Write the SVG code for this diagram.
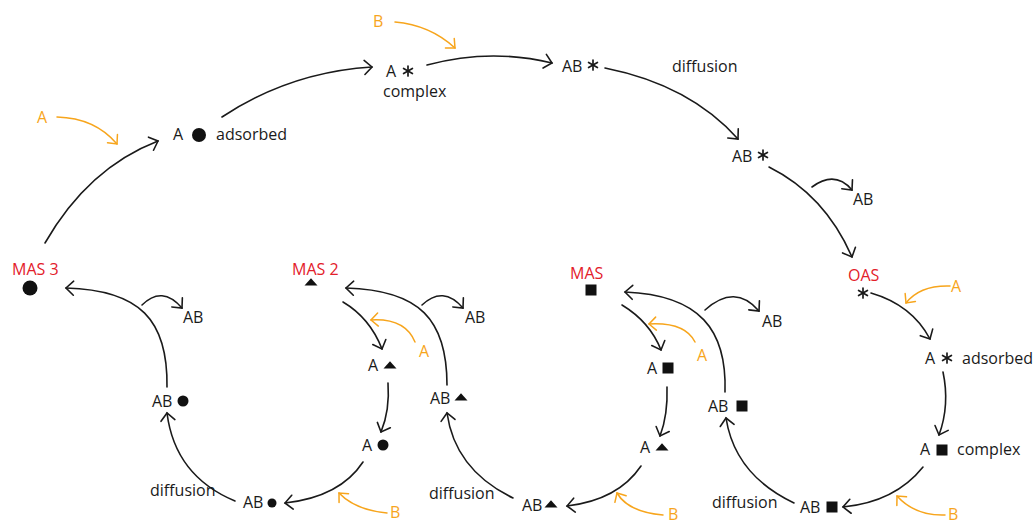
<svg xmlns="http://www.w3.org/2000/svg" xmlns:xlink="http://www.w3.org/1999/xlink" width="1033" height="523" viewBox="0 0 1033 523">
<style>
text{font-family:"Open Sans","Liberation Sans",sans-serif;font-size:16px;fill:#1a1a1a}
.red{fill:#e3202a}
.or{fill:#f7a51c}
.c{fill:none;stroke:#1a1a1a;stroke-width:1.6;stroke-linecap:round}
.o{fill:none;stroke:#f7a51c;stroke-width:1.5;stroke-linecap:round}
.sym{fill:#111}
</style>
<defs>
<marker id="ah" markerUnits="userSpaceOnUse" markerWidth="24" markerHeight="24" viewBox="-12 -12 24 24" refX="0" refY="0" orient="auto" overflow="visible">
<path d="M-7.5,-7 L0,0 L-7.5,7" fill="none" stroke="#1a1a1a" stroke-width="1.6" stroke-linecap="round" stroke-linejoin="miter"/>
</marker>
<marker id="aho" markerUnits="userSpaceOnUse" markerWidth="24" markerHeight="24" viewBox="-12 -12 24 24" refX="0" refY="0" orient="auto" overflow="visible">
<path d="M-7,-6.5 L0,0 L-7,6.5" fill="none" stroke="#f7a51c" stroke-width="1.5" stroke-linecap="round"/>
</marker>
<g id="ast" stroke="#1a1a1a" stroke-width="1.7" stroke-linecap="round">
<line x1="0" y1="-5" x2="0" y2="5"/>
<line x1="-4.4" y1="-2.6" x2="4.4" y2="2.6"/>
<line x1="-4.4" y1="2.6" x2="4.4" y2="-2.6"/>
</g>
<path id="tri" d="M-6.5,3.5 L6.5,3.5 L0,-3.8 Z"/>
<rect id="sq" x="-5.5" y="-5.5" width="11" height="11"/>
</defs>

<g id="connectors">
<path class="c" marker-end="url(#ah)" d="M45,243 Q88,168 158,141"/>
<path class="c" marker-end="url(#ah)" d="M222,117 Q290,72 372,67"/>
<path class="c" marker-end="url(#ah)" d="M427,65 Q490,48 552,63"/>
<path class="c" marker-end="url(#ah)" d="M605,68 Q690,85 738,139"/>
<path class="c" marker-end="url(#ah)" d="M769,167 Q825,195 852,257"/>
<path class="c" marker-end="url(#ah)" d="M812,187 Q835,170 852,190"/>
<path class="c" marker-end="url(#ah)" d="M871,293 Q912,305 930,339"/>
<path class="c" marker-end="url(#ah)" d="M943,372 Q950,405 939,435"/>
<path class="c" marker-end="url(#ah)" d="M923,467 Q895,502 843,507"/>
<path class="c" marker-end="url(#ah)" d="M794,503 Q735,475 726,418"/>
<path class="c" marker-end="url(#ah)" d="M725,392 C727,330 700,295 625,292"/>
<path class="c" marker-end="url(#ah)" d="M705,310 Q735,283 759,311"/>
<path class="c" marker-end="url(#ah)" d="M622,305 Q650,322 661,350"/>
<path class="c" marker-end="url(#ah)" d="M667,387 Q668,415 660,436"/>
<path class="c" marker-end="url(#ah)" d="M641,466 Q618,500 567,506"/>
<path class="c" marker-end="url(#ah)" d="M513,498 Q455,470 447,413"/>
<path class="c" marker-end="url(#ah)" d="M447,385 C447,320 420,290 346,288"/>
<path class="c" marker-end="url(#ah)" d="M422,305 Q443,285 463,308"/>
<path class="c" marker-end="url(#ah)" d="M343,302 Q370,318 382,349"/>
<path class="c" marker-end="url(#ah)" d="M388,383 Q390,410 381,432"/>
<path class="c" marker-end="url(#ah)" d="M363,462 Q340,497 285,503"/>
<path class="c" marker-end="url(#ah)" d="M235,501 Q175,476 167,413"/>
<path class="c" marker-end="url(#ah)" d="M167,387 C168,320 140,290 66,288"/>
<path class="c" marker-end="url(#ah)" d="M142,305 Q162,285 182,308"/>

<path class="o" marker-end="url(#aho)" d="M57,117 Q95,118 117,144"/>
<path class="o" marker-end="url(#aho)" d="M395,22 Q430,25 455,48"/>
<path class="o" marker-end="url(#aho)" d="M950,286 Q920,285 906,303"/>
<path class="o" marker-end="url(#aho)" d="M945,515 Q915,516 897,496"/>
<path class="o" marker-end="url(#aho)" d="M695,342 Q685,322 649,324"/>
<path class="o" marker-end="url(#aho)" d="M663,515 Q628,512 617,493"/>
<path class="o" marker-end="url(#aho)" d="M415,342 Q405,318 371,320"/>
<path class="o" marker-end="url(#aho)" d="M387,513 Q355,510 339,493"/>
</g>

<g id="reagents">
<text class="or" x="37" y="123">A</text>
<text class="or" x="373" y="27">B</text>
<text class="or" x="951" y="292">A</text>
<text class="or" x="948" y="520">B</text>
<text class="or" x="697" y="361">A</text>
<text class="or" x="668" y="520">B</text>
<text class="or" x="419" y="357">A</text>
<text class="or" x="390" y="518">B</text>
</g>

<g id="n-a-adsorbed"><text x="173" y="140">A</text><circle class="sym" cx="199" cy="135" r="7"/><text x="216" y="140">adsorbed</text></g>
<g id="n-a-complex"><text x="386" y="77">A</text><use xlink:href="#ast" x="408" y="71"/><text x="383" y="97">complex</text></g>
<g id="n-ab-1"><text x="562" y="72">AB</text><use xlink:href="#ast" x="593" y="65"/></g>
<g id="lbl-diffusion-top"><text x="672" y="72">diffusion</text></g>
<g id="n-ab-2"><text x="732" y="162">AB</text><use xlink:href="#ast" x="763" y="155"/></g>
<g id="rel-ab-1"><text x="853" y="205">AB</text></g>

<g id="n-oas"><text class="red" x="848" y="281">OAS</text><use xlink:href="#ast" x="863" y="293"/></g>
<g id="n-oas-a-ads"><text x="925" y="364">A</text><use xlink:href="#ast" x="947" y="358"/><text x="962" y="364">adsorbed</text></g>
<g id="n-oas-a-cpx"><text x="920" y="455">A</text><use class="sym" xlink:href="#sq" x="942" y="450"/><text x="957" y="455">complex</text></g>
<g id="n-oas-ab"><text x="800" y="513">AB</text><use class="sym" xlink:href="#sq" x="832" y="507"/></g>
<g id="lbl-diffusion-3"><text x="712" y="508">diffusion</text></g>

<g id="n-mas"><text class="red" x="570" y="279">MAS</text><use class="sym" xlink:href="#sq" x="591" y="290"/></g>
<g id="n-mas-ab-sq"><text x="708" y="412">AB</text><use class="sym" xlink:href="#sq" x="742" y="406"/></g>
<g id="rel-ab-mas"><text x="762" y="327">AB</text></g>
<g id="n-mas-a-sq"><text x="647" y="374">A</text><use class="sym" xlink:href="#sq" x="668" y="368"/></g>
<g id="n-mas-a-tri"><text x="640" y="453">A</text><use class="sym" xlink:href="#tri" x="662" y="447"/></g>
<g id="n-mas-ab-tri"><text x="522" y="511">AB</text><use class="sym" xlink:href="#tri" x="551" y="504"/></g>
<g id="lbl-diffusion-2"><text x="429" y="499">diffusion</text></g>

<g id="n-mas2"><text class="red" x="292" y="275">MAS 2</text><use class="sym" xlink:href="#tri" x="311" y="282"/></g>
<g id="n-mas2-ab-tri"><text x="430" y="404">AB</text><use class="sym" xlink:href="#tri" x="461" y="397"/></g>
<g id="rel-ab-mas2"><text x="465" y="323">AB</text></g>
<g id="n-mas2-a-tri"><text x="368" y="371">A</text><use class="sym" xlink:href="#tri" x="390" y="365"/></g>
<g id="n-mas2-a-circ"><text x="362" y="451">A</text><circle class="sym" cx="383" cy="445" r="5.5"/></g>
<g id="n-mas2-ab-circ"><text x="243" y="508">AB</text><circle class="sym" cx="272" cy="503" r="4.5"/></g>
<g id="lbl-diffusion-1"><text x="150" y="496">diffusion</text></g>

<g id="n-mas3"><text class="red" x="12" y="275">MAS 3</text><circle class="sym" cx="30" cy="288" r="7.5"/></g>
<g id="n-mas3-ab-circ"><text x="152" y="407">AB</text><circle class="sym" cx="183" cy="401" r="5.5"/></g>
<g id="rel-ab-mas3"><text x="183" y="323">AB</text></g>
</svg>
